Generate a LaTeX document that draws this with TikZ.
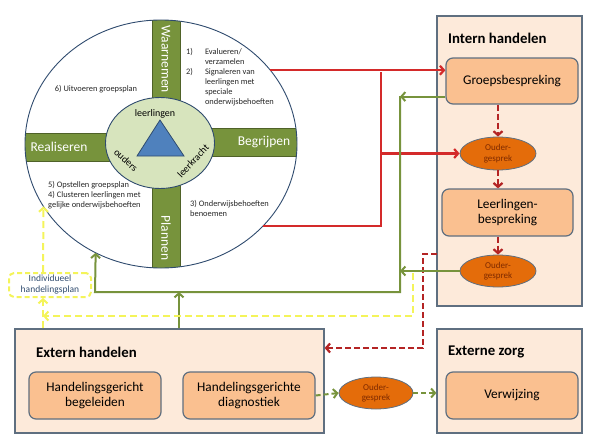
\documentclass[tikz,border=0pt]{standalone}
\usepackage{fontspec}
\setmainfont{Carlito}
\usetikzlibrary{positioning, calc, shapes.geometric}
\usetikzlibrary{arrows, arrows.meta}
\tikzset{>={Straight Barb[length=4pt,width=9pt]}}
\definecolor{mygreen}{HTML}{77933C}
\definecolor{mydarkgreen}{HTML}{4F6228}
\definecolor{myhub}{HTML}{D7E4BD}
\definecolor{myblue}{HTML}{4F81BD}
\definecolor{mynavy}{HTML}{2F4B6E}
\definecolor{mygray}{HTML}{5F6F80}
\definecolor{mypeach}{HTML}{FDEADA}
\definecolor{myorange}{HTML}{FAC090}
\definecolor{mydeep}{HTML}{E46C0A}
\definecolor{mybrown}{HTML}{7F2A00}
\definecolor{myred}{HTML}{D42A2A}
\definecolor{myyellow}{HTML}{F4F45A}
\tikzset{ % shapes of the wheel and the boxes
  wheel/.style={ellipse,draw=mynavy,line width=0.9pt,inner sep=0,outer sep=0,
    minimum width=272pt,minimum height=248pt},
  bar/.style={draw=mydarkgreen,fill=mygreen},
  bar text/.style={text=white,inner sep=0,font=\fontsize{13.5}{15}\selectfont},
  hub/.style={ellipse,draw=mynavy,fill=myhub,line width=0.9pt,inner sep=0,
    minimum width=109pt,minimum height=91pt},
  hub text/.style={inner sep=0,font=\fontsize{10}{11}\selectfont},
  wheel text/.style={align=left,inner sep=0,text=black!85,
    font=\fontsize{8.4}{10}\selectfont},
  area/.style={draw=mygray,fill=mypeach,line width=1.2pt,inner sep=0},
  area title/.style={anchor=west,inner sep=0,font=\bfseries\fontsize{14.8}{16}\selectfont},
  step box/.style={draw=mygray,fill=myorange,rounded corners=7pt,line width=1.2pt,
    align=center,minimum width=132pt,minimum height=47pt,
    font=\fontsize{13.3}{15.5}\selectfont},
  talk/.style={ellipse,draw=mygray,fill=mydeep,inner sep=0,line width=0.8pt,
    minimum width=76pt,minimum height=33pt,align=center,text=mybrown,
    font=\fontsize{9}{10.5}\selectfont},
  redline/.style={draw=myred,line width=2.2pt},
  reddash/.style={draw=myred!85!black,line width=2.2pt,dash pattern=on 6pt off 3pt},
  greenline/.style={draw=mygreen,line width=2pt},
  greendash/.style={draw=mygreen,line width=2pt,dash pattern=on 5pt off 3pt},
  yellowdash/.style={draw=myyellow,line width=2pt,dash pattern=on 7pt off 4pt}
}

\begin{document}
\begin{tikzpicture}[x=1pt,y=-1pt]
\useasboundingbox (0,0) rectangle (604,444);

% wheel with the four bars
\begin{scope}
  \clip (161,144) ellipse [x radius=136pt, y radius=124pt];
  \draw[bar] (152,10) rectangle (180,110);
  \draw[bar] (152,180) rectangle (180,290);
  \draw[bar] (10,133) rectangle (120,161);
  \draw[bar] (200,128) rectangle (318,156);
\end{scope}
\node[wheel] (wheel) at (161,144) {};
\node[hub]   (hub)   at (160,143) {};
\filldraw[fill=myblue,draw=mynavy,line width=0.8pt] (160,120) -- (184,156) -- (137,156) -- cycle;
\node[bar text,rotate=-90] (waarnemen)  at (166,59)  {Waarnemen};
\node[bar text,rotate=-90] (plannen)    at (166,238) {Plannen};
\node[bar text]            (realiseren) at (59,147)  {Realiseren};
\node[bar text]            (begrijpen)  at (264,142) {Begrijpen};
\node[hub text]            (leerlingen) at (155,114) {leerlingen};
\node[hub text,rotate=-42] (ouders)     at (126,160) {ouders};
\node[hub text,rotate=47]  (leerkracht) at (193,161) {leerkracht};

% steps in the wheel
\node[wheel text] (step6)  at (96,89) {6) Uitvoeren groepsplan};
\node[wheel text,anchor=north west] (step12) at (186,47)
  {\begin{tabular}{@{}l@{\hspace{12pt}}l@{}}
   1) & Evalueren/\\ & verzamelen\\ 2) & Signaleren van\\
      & leerlingen met\\ & speciale\\ & onderwijsbehoeften
   \end{tabular}};
\node[wheel text,anchor=north west] (step54) at (48,181)
  {5) Opstellen groepsplan\\4) Clusteren leerlingen met\\gelijke onderwijsbehoeften};
\node[wheel text,anchor=north west] (step3) at (190,200) {3) Onderwijsbehoeften\\benoemen};

% areas
\node[area,minimum width=145pt,minimum height=290pt] (intern) at (509.5,161) {};
\node[area,minimum width=309pt,minimum height=104pt] (extern) at (169.5,381) {};
\node[area,minimum width=145pt,minimum height=104pt] (zorg)   at (509.5,381) {};
\node[area title] (interntitle) at (448,38)  {Intern handelen};
\node[area title] (externtitle) at (36,352)  {Extern handelen};
\node[area title] (zorgtitle)   at (448,352) {Externe zorg};

% steps in the areas
\node[step box,minimum height=46pt]        (groep)      at (512,81)      {Groepsbespreking};
\node[step box,minimum width=131pt]        (leerl)      at (507.5,212.5) {Leerlingen-\\bespreking};
\node[step box]                            (verwijzing) at (512,395.5)   {Verwijzing};
\node[step box]                            (begeleiden) at (95,395.5)    {Handelingsgericht\\begeleiden};
\node[step box]                            (diag)       at (249,395.5)   {Handelingsgerichte\\diagnostiek};
\node[talk]                                (ouder1)     at (498,153.5)   {Ouder-\\gesprek};
\node[talk,minimum height=32pt]            (ouder2)     at (498,271)     {Ouder-\\gesprek};
\node[talk,minimum width=74pt,minimum height=32pt] (ouder3) at (376,393) {Ouder-\\gesprek};
\node[draw=myyellow,line width=2pt,dash pattern=on 5pt off 3pt,rounded corners=5pt,
  minimum width=82pt,minimum height=24pt,inner sep=0,align=center,text=mynavy,
  font=\fontsize{9.5}{11}\selectfont] (plan) at (50,285) {Individueel\\handelingsplan};

% helper points
\coordinate (redbus)  at (381,72);
\coordinate (greenbus) at (400,96);
\coordinate (greencorner) at (400,292);
\coordinate (greenleft)   at (95,292);
\coordinate (greenup)     at (179,292);
\coordinate (yellowstart) at (413,273);
\coordinate (yellowcorner) at (413,316);
\coordinate (yellowbus)   at (43,316);
\coordinate (redstart) at (437,254);
\coordinate (redcorner) at (423,254);
\coordinate (redlow)   at (423,348);

% red connections
\draw[redline,->] (wheel.34) -- (wheel.34 -| groep.west);
\draw[redline] (wheel.-39) -| (redbus);
\draw[redline,->] (ouder1.west -| redbus) -- (ouder1.west);
\draw[reddash,->] (ouder1.north |- groep.south) -- (ouder1.north);
\draw[reddash,->] (ouder1.south) -- (ouder1.south |- leerl.north);
\draw[reddash,->] (ouder2.north |- leerl.south) -- (ouder2.north);
\draw[reddash,->] (redstart) -- (redcorner) -- (redlow) -- (redlow -| extern.east);

% green connections
\draw[greenline,->] ([yshift=8pt]groep.south west) -- ([yshift=8pt]groep.south west -| greenbus);
\draw[greenline,->] (ouder2.west) -- (ouder2.west -| greenbus);
\draw[greenline,->] (greenbus) -- (greencorner) -- (greenleft) -- (wheel.239);
\draw[greenline,->] (greenup |- extern.north) -- (greenup);
\draw[greendash,->] (diag.east) -- (ouder3.west);
\draw[greendash,->] (ouder3.east) -- (ouder3.east -| zorg.west);

% yellow connections
\draw[yellowdash,->] (yellowstart) -- (yellowcorner) -- (yellowbus);
\draw[yellowdash,->] (yellowbus |- extern.north) -- (yellowbus |- plan.south);
\draw[yellowdash,->] (yellowbus |- plan.north) -- (wheel.208);
\end{tikzpicture}
\end{document}
